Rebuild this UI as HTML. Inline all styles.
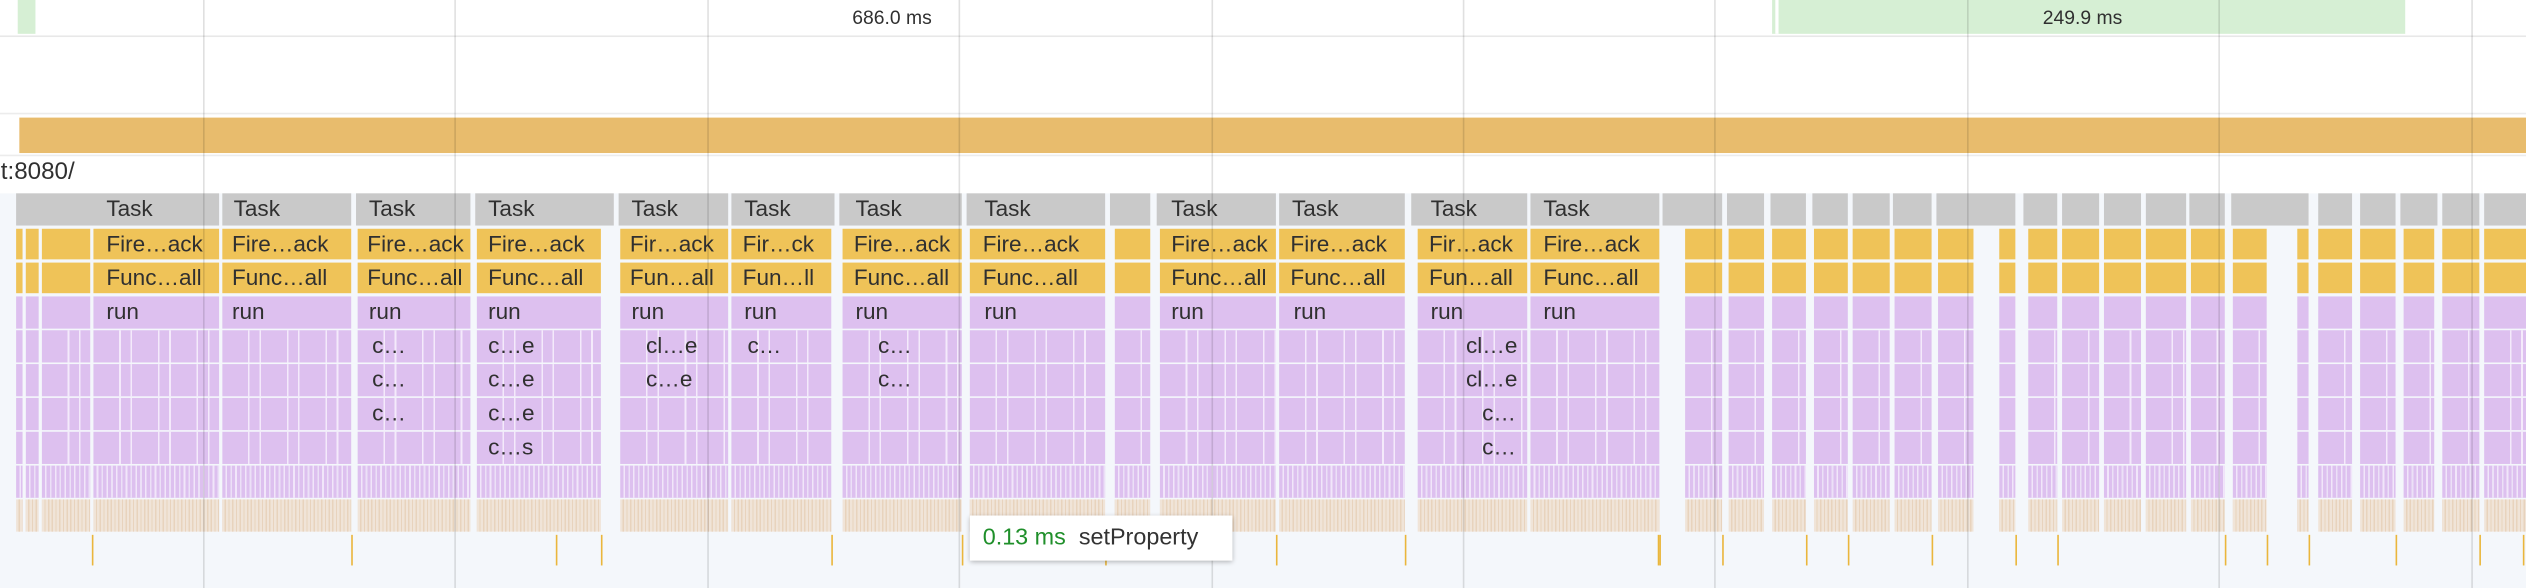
<!DOCTYPE html>
<html><head><meta charset="utf-8">
<style>
html,body{margin:0;padding:0;background:#fff;overflow:hidden;width:2526px;height:588px}
#w{position:absolute;left:0;top:0;width:1568px;height:365px;transform:scale(1.6110);transform-origin:0 0;font-family:"Liberation Sans",sans-serif;color:#333}
.a{position:absolute}
.g{position:absolute;top:120.4px;height:19.9px;background:#c9c9c9}
.c{position:absolute;top:141.5px}
.c i{display:block;height:19.9px;margin-bottom:1.2px;background:#ddc0ef;background-image:repeating-linear-gradient(90deg,transparent 0 16px,#f4eafb 16px 17px,transparent 17px 23px,#f4eafb 23px 24px)}
.c i:nth-child(1),.c i:nth-child(2){background:#efc358}
.c i:nth-child(3){background:#ddc0ef}
.c i:nth-child(8){background:#ddc0ef;background-image:repeating-linear-gradient(90deg,transparent 0 2px,#f1e6fa 2px 3px,transparent 3px 5px,#ece0f7 5px 6px)}
.c i:nth-child(9){background:#f0e4d8;background-image:repeating-linear-gradient(90deg,transparent 0 1.5px,#e8d3bd 1.5px 2.3px)}
.t{position:absolute;font-size:14px;line-height:19.9px;color:#303030;white-space:nowrap}
.v{position:absolute;top:0;width:1px;height:365px;background:rgba(0,0,0,0.12)}
.m{position:absolute;top:331.5px;height:19.5px;width:1px;background:#eab63c}
</style></head><body><div id="w">
<!-- top ruler -->
<div class="a" style="left:11px;top:0;width:11px;height:20.7px;background:#d6efd4"></div>
<div class="a" style="left:1100px;top:0;width:393px;height:20.7px;background:#d6efd4"></div>
<div class="a" style="left:1102px;top:0;width:2px;height:20.7px;background:#fff"></div>
<div class="t" style="left:529px;top:2px;font-size:12px">686.0 ms</div>
<div class="t" style="left:1268px;top:2px;font-size:12px">249.9 ms</div>
<div class="a" style="left:0;top:21.5px;width:1568px;height:1.3px;background:#e8e8e8"></div>
<div class="a" style="left:0;top:69.5px;width:1568px;height:1.3px;background:#ececec"></div>
<div class="a" style="left:12.4px;top:73.3px;width:1556px;height:21.4px;background:#e8bc6d"></div>
<div class="a" style="left:0;top:95.7px;width:1568px;height:1.3px;background:#ececec"></div>
<div class="t" style="left:-7px;top:97px;font-size:15px;line-height:20px">st:8080/</div>
<!-- flame bg -->
<div class="a" style="left:0;top:119.5px;width:1568px;height:245.5px;background:#f4f7fb"></div>
<!-- gray task row -->
<div class="g" style="left:10px;width:126px"></div><div class="g" style="left:138px;width:80px"></div>
<div class="g" style="left:221px;width:71px"></div><div class="g" style="left:295px;width:86px"></div>
<div class="g" style="left:384px;width:68px"></div><div class="g" style="left:454px;width:64px"></div>
<div class="g" style="left:521px;width:76px"></div><div class="g" style="left:600px;width:86px"></div>
<div class="g" style="left:689px;width:25px"></div><div class="g" style="left:718px;width:74px"></div>
<div class="g" style="left:794px;width:78px"></div><div class="g" style="left:876px;width:72px"></div>
<div class="g" style="left:950px;width:80px"></div><div class="g" style="left:1032px;width:37px"></div>
<div class="g" style="left:1072px;width:23px"></div><div class="g" style="left:1099px;width:22px"></div>
<div class="g" style="left:1125px;width:22px"></div><div class="g" style="left:1150px;width:23px"></div>
<div class="g" style="left:1175px;width:24px"></div><div class="g" style="left:1202px;width:49px"></div>
<div class="g" style="left:1256px;width:21px"></div><div class="g" style="left:1280px;width:23px"></div>
<div class="g" style="left:1306px;width:23px"></div><div class="g" style="left:1332px;width:25px"></div>
<div class="g" style="left:1359px;width:22px"></div><div class="g" style="left:1385px;width:48px"></div>
<div class="g" style="left:1439px;width:21px"></div><div class="g" style="left:1465px;width:22px"></div>
<div class="g" style="left:1490px;width:23px"></div><div class="g" style="left:1516px;width:23px"></div>
<div class="g" style="left:1542px;width:26px"></div>
<!-- columns -->
<div class="c" style="left:10px;width:4px"><i></i><i></i><i></i><i></i><i></i><i></i><i></i><i></i><i></i></div>
<div class="c" style="left:16px;width:8px"><i></i><i></i><i></i><i></i><i></i><i></i><i></i><i></i><i></i></div>
<div class="c" style="left:26px;width:30px"><i></i><i></i><i></i><i></i><i></i><i></i><i></i><i></i><i></i></div>
<div class="c" style="left:58px;width:78px"><i></i><i></i><i></i><i></i><i></i><i></i><i></i><i></i><i></i></div>
<div class="c" style="left:138px;width:80px"><i></i><i></i><i></i><i></i><i></i><i></i><i></i><i></i><i></i></div>
<div class="c" style="left:222px;width:70px"><i></i><i></i><i></i><i></i><i></i><i></i><i></i><i></i><i></i></div>
<div class="c" style="left:296px;width:77px"><i></i><i></i><i></i><i></i><i></i><i></i><i></i><i></i><i></i></div>
<div class="c" style="left:385px;width:67px"><i></i><i></i><i></i><i></i><i></i><i></i><i></i><i></i><i></i></div>
<div class="c" style="left:454px;width:62px"><i></i><i></i><i></i><i></i><i></i><i></i><i></i><i></i><i></i></div>
<div class="c" style="left:523px;width:74px"><i></i><i></i><i></i><i></i><i></i><i></i><i></i><i></i><i></i></div>
<div class="c" style="left:602px;width:84px"><i></i><i></i><i></i><i></i><i></i><i></i><i></i><i></i><i></i></div>
<div class="c" style="left:692px;width:22px"><i></i><i></i><i></i><i></i><i></i><i></i><i></i><i></i><i></i></div>
<div class="c" style="left:720px;width:72px"><i></i><i></i><i></i><i></i><i></i><i></i><i></i><i></i><i></i></div>
<div class="c" style="left:794px;width:78px"><i></i><i></i><i></i><i></i><i></i><i></i><i></i><i></i><i></i></div>
<div class="c" style="left:880px;width:68px"><i></i><i></i><i></i><i></i><i></i><i></i><i></i><i></i><i></i></div>
<div class="c" style="left:950px;width:80px"><i></i><i></i><i></i><i></i><i></i><i></i><i></i><i></i><i></i></div>
<div class="c" style="left:1046px;width:23px"><i></i><i></i><i></i><i></i><i></i><i></i><i></i><i></i><i></i></div>
<div class="c" style="left:1073px;width:22px"><i></i><i></i><i></i><i></i><i></i><i></i><i></i><i></i><i></i></div>
<div class="c" style="left:1100px;width:21px"><i></i><i></i><i></i><i></i><i></i><i></i><i></i><i></i><i></i></div>
<div class="c" style="left:1126px;width:21px"><i></i><i></i><i></i><i></i><i></i><i></i><i></i><i></i><i></i></div>
<div class="c" style="left:1150px;width:23px"><i></i><i></i><i></i><i></i><i></i><i></i><i></i><i></i><i></i></div>
<div class="c" style="left:1176px;width:23px"><i></i><i></i><i></i><i></i><i></i><i></i><i></i><i></i><i></i></div>
<div class="c" style="left:1203px;width:22px"><i></i><i></i><i></i><i></i><i></i><i></i><i></i><i></i><i></i></div>
<div class="c" style="left:1241px;width:10px"><i></i><i></i><i></i><i></i><i></i><i></i><i></i><i></i><i></i></div>
<div class="c" style="left:1259px;width:18px"><i></i><i></i><i></i><i></i><i></i><i></i><i></i><i></i><i></i></div>
<div class="c" style="left:1280px;width:23px"><i></i><i></i><i></i><i></i><i></i><i></i><i></i><i></i><i></i></div>
<div class="c" style="left:1306px;width:23px"><i></i><i></i><i></i><i></i><i></i><i></i><i></i><i></i><i></i></div>
<div class="c" style="left:1332px;width:25px"><i></i><i></i><i></i><i></i><i></i><i></i><i></i><i></i><i></i></div>
<div class="c" style="left:1360px;width:21px"><i></i><i></i><i></i><i></i><i></i><i></i><i></i><i></i><i></i></div>
<div class="c" style="left:1386px;width:21px"><i></i><i></i><i></i><i></i><i></i><i></i><i></i><i></i><i></i></div>
<div class="c" style="left:1426px;width:7px"><i></i><i></i><i></i><i></i><i></i><i></i><i></i><i></i><i></i></div>
<div class="c" style="left:1439px;width:21px"><i></i><i></i><i></i><i></i><i></i><i></i><i></i><i></i><i></i></div>
<div class="c" style="left:1465px;width:22px"><i></i><i></i><i></i><i></i><i></i><i></i><i></i><i></i><i></i></div>
<div class="c" style="left:1492px;width:19px"><i></i><i></i><i></i><i></i><i></i><i></i><i></i><i></i><i></i></div>
<div class="c" style="left:1516px;width:23px"><i></i><i></i><i></i><i></i><i></i><i></i><i></i><i></i><i></i></div>
<div class="c" style="left:1542px;width:26px"><i></i><i></i><i></i><i></i><i></i><i></i><i></i><i></i><i></i></div>
<!-- markers -->
<div class="m" style="left:57px"></div><div class="m" style="left:218px"></div><div class="m" style="left:345px"></div>
<div class="m" style="left:373px"></div><div class="m" style="left:516px"></div><div class="m" style="left:597px"></div>
<div class="m" style="left:686px"></div><div class="m" style="left:792px"></div><div class="m" style="left:872px"></div>
<div class="m" style="left:1030px"></div><div class="m" style="left:1029px"></div><div class="m" style="left:1069px"></div>
<div class="m" style="left:1121px"></div><div class="m" style="left:1147px"></div><div class="m" style="left:1199px"></div>
<div class="m" style="left:1251px"></div><div class="m" style="left:1277px"></div><div class="m" style="left:1381px"></div>
<div class="m" style="left:1407px"></div><div class="m" style="left:1433px"></div><div class="m" style="left:1487px"></div>
<div class="m" style="left:1539px"></div><div class="m" style="left:1566px"></div>
<!-- labels: Task -->
<div class="t" style="left:66px;top:120.4px">Task</div><div class="t" style="left:145px;top:120.4px">Task</div>
<div class="t" style="left:229px;top:120.4px">Task</div><div class="t" style="left:303px;top:120.4px">Task</div>
<div class="t" style="left:392px;top:120.4px">Task</div><div class="t" style="left:462px;top:120.4px">Task</div>
<div class="t" style="left:531px;top:120.4px">Task</div><div class="t" style="left:611px;top:120.4px">Task</div>
<div class="t" style="left:727px;top:120.4px">Task</div><div class="t" style="left:802px;top:120.4px">Task</div>
<div class="t" style="left:888px;top:120.4px">Task</div><div class="t" style="left:958px;top:120.4px">Task</div>
<!-- Fire -->
<div class="t" style="left:66px;top:141.5px">Fire…ack</div><div class="t" style="left:144px;top:141.5px">Fire…ack</div>
<div class="t" style="left:228px;top:141.5px">Fire…ack</div><div class="t" style="left:303px;top:141.5px">Fire…ack</div>
<div class="t" style="left:391px;top:141.5px">Fir…ack</div><div class="t" style="left:461px;top:141.5px">Fir…ck</div>
<div class="t" style="left:530px;top:141.5px">Fire…ack</div><div class="t" style="left:610px;top:141.5px">Fire…ack</div>
<div class="t" style="left:727px;top:141.5px">Fire…ack</div><div class="t" style="left:801px;top:141.5px">Fire…ack</div>
<div class="t" style="left:887px;top:141.5px">Fir…ack</div><div class="t" style="left:958px;top:141.5px">Fire…ack</div>
<!-- Func -->
<div class="t" style="left:66px;top:162.6px">Func…all</div><div class="t" style="left:144px;top:162.6px">Func…all</div>
<div class="t" style="left:228px;top:162.6px">Func…all</div><div class="t" style="left:303px;top:162.6px">Func…all</div>
<div class="t" style="left:391px;top:162.6px">Fun…all</div><div class="t" style="left:461px;top:162.6px">Fun…ll</div>
<div class="t" style="left:530px;top:162.6px">Func…all</div><div class="t" style="left:610px;top:162.6px">Func…all</div>
<div class="t" style="left:727px;top:162.6px">Func…all</div><div class="t" style="left:801px;top:162.6px">Func…all</div>
<div class="t" style="left:887px;top:162.6px">Fun…all</div><div class="t" style="left:958px;top:162.6px">Func…all</div>
<!-- run -->
<div class="t" style="left:66px;top:183.7px">run</div><div class="t" style="left:144px;top:183.7px">run</div>
<div class="t" style="left:229px;top:183.7px">run</div><div class="t" style="left:303px;top:183.7px">run</div>
<div class="t" style="left:392px;top:183.7px">run</div><div class="t" style="left:462px;top:183.7px">run</div>
<div class="t" style="left:531px;top:183.7px">run</div><div class="t" style="left:611px;top:183.7px">run</div>
<div class="t" style="left:727px;top:183.7px">run</div><div class="t" style="left:803px;top:183.7px">run</div>
<div class="t" style="left:888px;top:183.7px">run</div><div class="t" style="left:958px;top:183.7px">run</div>
<!-- sub labels -->
<div class="t" style="left:231px;top:204.8px">c…</div><div class="t" style="left:231px;top:225.9px">c…</div><div class="t" style="left:231px;top:247.1px">c…</div>
<div class="t" style="left:303px;top:204.8px">c…e</div><div class="t" style="left:303px;top:225.9px">c…e</div>
<div class="t" style="left:303px;top:247.1px">c…e</div><div class="t" style="left:303px;top:268.2px">c…s</div>
<div class="t" style="left:401px;top:204.8px">cl…e</div><div class="t" style="left:401px;top:225.9px">c…e</div>
<div class="t" style="left:464px;top:204.8px">c…</div>
<div class="t" style="left:545px;top:204.8px">c…</div><div class="t" style="left:545px;top:225.9px">c…</div>
<div class="t" style="left:910px;top:204.8px">cl…e</div><div class="t" style="left:910px;top:225.9px">cl…e</div>
<div class="t" style="left:920px;top:247.1px">c…</div><div class="t" style="left:920px;top:268.2px">c…</div>
<!-- grid lines -->
<div class="v" style="left:126px"></div><div class="v" style="left:282.4px"></div><div class="v" style="left:438.8px"></div>
<div class="v" style="left:595.2px"></div><div class="v" style="left:751.6px"></div><div class="v" style="left:908px"></div>
<div class="v" style="left:1064.4px"></div><div class="v" style="left:1220.8px"></div><div class="v" style="left:1377.2px"></div>
<div class="v" style="left:1533.6px"></div>
<!-- tooltip -->
<div class="a" style="left:601.5px;top:320px;width:163px;height:27.5px;background:#fff;box-shadow:0 1px 3px rgba(0,0,0,0.3)"></div>
<div class="t" style="left:610px;top:323px;font-size:14.5px;line-height:22px"><span style="color:#1f8f2a">0.13 ms</span>&nbsp; <span style="color:#333">setProperty</span></div>
</div></body></html>
